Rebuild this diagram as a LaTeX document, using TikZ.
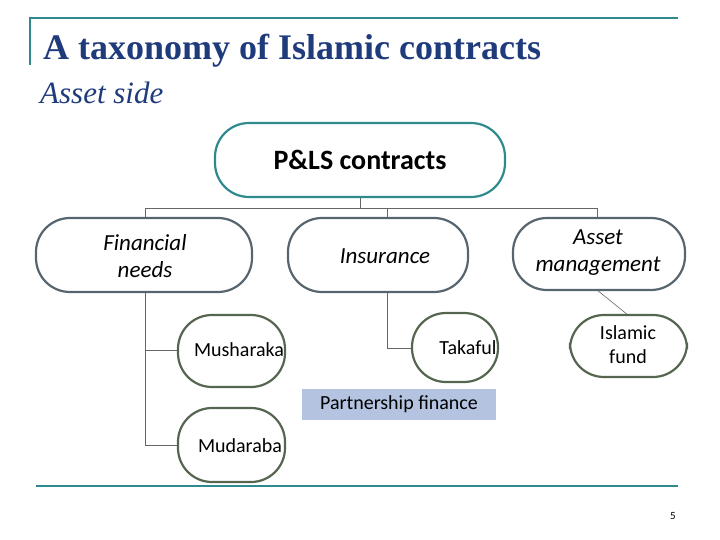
\documentclass[tikz,border=0pt]{standalone}
\usepackage{fontspec}
\setmainfont{Liberation Serif}
\newfontfamily\calfont{Carlito}
\begin{document}
\begin{tikzpicture}[x=1pt,y=-1pt,
  pill/.style={draw=#1,line width=2.2pt,rounded corners=34pt,fill=white},
  conn/.style={draw=gray!80!black,line width=0.6pt},
  midtxt/.style={font=\calfont\itshape\fontsize{23}{27}\selectfont,align=center},
  leaftxt/.style={font=\calfont\fontsize{20}{24}\selectfont,align=center}]
\useasboundingbox (0,0) rectangle (720,540);
\definecolor{teal1}{HTML}{2E8A8C}
\definecolor{mid}{HTML}{56656E}
\definecolor{leaf}{HTML}{55654F}
\definecolor{ttl}{HTML}{1F3B7C}
\definecolor{pfill}{HTML}{B4C4E0}
\draw[teal1,line width=1.5pt] (30,65) -- (30,18) -- (678,18);
\draw[teal1,line width=1.5pt] (36,486) -- (678,486);
\node[anchor=base west,text=ttl,font=\fontsize{36}{40}\selectfont\bfseries,inner sep=0] (title) at (43,60) {A taxonomy of Islamic contracts};
\node[anchor=base west,text=ttl,font=\fontsize{31}{34}\selectfont\itshape,inner sep=0] (sub) at (40,104) {Asset side};
% connectors
\coordinate (hb) at (360,208);
\draw[conn] (360,197) -- (hb);
\draw[conn] (145,218) -- (145,208) -- (597,208) -- (597,218);
\draw[conn] (387,208) -- (387,218);
\draw[conn] (145,292) -- (145,445) -- (178,445);
\draw[conn] (145,350) -- (178,350);
\draw[conn] (387,292) -- (387,348) -- (412,348);
\draw[conn] (597,290) -- (628,315);
% nodes
\path[pill=teal1] (215,123) rectangle (505,197);
\node[font=\calfont\bfseries\fontsize{28}{32}\selectfont] (pls) at (360,160) {P\&LS contracts};
\path[pill=mid] (36,218) rectangle (252,292);
\node[midtxt] (fin) at (145,256) {Financial\\needs};
\path[pill=mid] (288,218) rectangle (468,292);
\node[midtxt] (ins) at (385,256) {Insurance};
\path[pill=mid] (513,218) rectangle (685,290);
\node[midtxt] (am) at (598,253) {Asset\\management};
\path[pill=leaf] (178,315) rectangle (285,387);
\node[leaftxt] (mush) at (239,350) {Musharaka};
\path[pill=leaf] (412,313) rectangle (498,382);
\node[leaftxt] (tak) at (468,348) {Takaful};
\path[pill=leaf] (570,315) rectangle (687,377);
\node[leaftxt] (isl) at (628,345) {Islamic\\fund};
\path[pill=leaf] (178,408) rectangle (285,482);
\node[leaftxt] (mud) at (240,446) {Mudaraba};
\node[fill=pfill,minimum width=194pt,minimum height=31pt,font=\calfont\fontsize{20}{24}\selectfont,inner sep=0] (pf) at (399,404) {Partnership finance};
\node[font=\calfont\fontsize{11}{13}\selectfont] (pg) at (673,516) {5};
\end{tikzpicture}
\end{document}
